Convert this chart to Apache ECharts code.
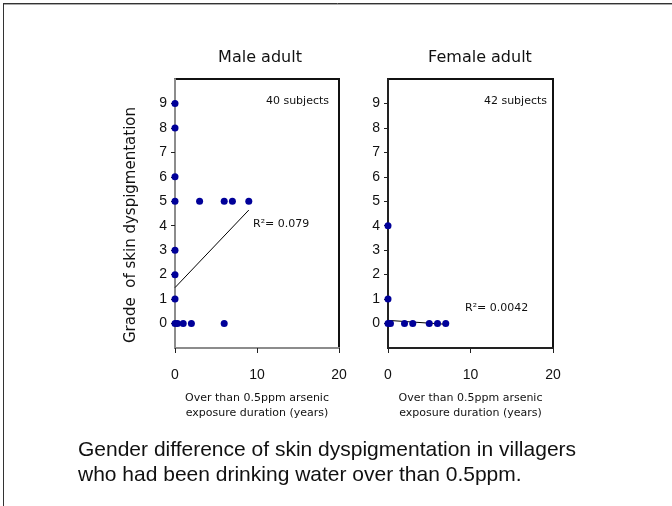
<!DOCTYPE html>
<html>
<head>
<meta charset="utf-8">
<script src="https://cdn.jsdelivr.net/npm/echarts@6/dist/echarts.min.js"></script>
<style>
  html, body { margin: 0; padding: 0; background: #fff; }
  #chart { width: 672px; height: 506px; }
</style>
</head>
<body>
<div id="chart"></div>
<script>
// Exposure duration (years) and skin dyspigmentation grade per subject
const maleDuration = [0, 0, 0, 0, 0, 0, 0, 0, 0.3, 1, 2, 6, 3, 6, 7, 9];
const maleGrade    = [9, 8, 6, 5, 3, 2, 1, 0, 0,   0, 0, 0, 5, 5, 5, 5];
const femaleDuration = [0, 0, 0, 0.3, 2, 3, 5, 6, 7];
const femaleGrade    = [4, 1, 0, 0,   0, 0, 0, 0, 0];

// Linear trend lines (start and end of fitted line)
const maleTrendX = [0, 9];
const maleTrendY = [1.47, 4.64];
const femaleTrendX = [0, 7];
const femaleTrendY = [0.13, -0.03];

const maleR2 = 'R²= 0.079';
const femaleR2 = 'R²= 0.0042';
const maleCount = '40 subjects';
const femaleCount = '42 subjects';

const gradeTicks = [0, 1, 2, 3, 4, 5, 6, 7, 8, 9];
const durationTicks = [0, 10, 20];

const panelFont = 'DejaVu Sans, Liberation Sans, Arial, sans-serif';
const tickFont = 'Liberation Sans, Arial, sans-serif';
const markerColor = '#000099';

const zip = (xs, ys) => xs.map((x, i) => [x, ys[i]]);

function xAxisFor(gridIndex, lineColor) {
  return {
    gridIndex, type: 'value', min: 0, max: 20,
    splitLine: { show: false },
    axisLine: { show: true, onZero: false, lineStyle: { color: lineColor, width: 2 } },
    axisTick: { show: true, customValues: durationTicks, length: 5, lineStyle: { color: '#222', width: 1 } },
    axisLabel: { customValues: durationTicks, margin: 20, fontSize: 14, color: '#111', fontFamily: tickFont },
    name: 'Over than 0.5ppm arsenic\nexposure duration (years)',
    nameLocation: 'middle', nameGap: 43,
    nameTextStyle: { fontSize: 11, lineHeight: 15, color: '#111', fontFamily: panelFont }
  };
}

function yAxisFor(gridIndex, lineColor) {
  return {
    gridIndex, type: 'value', min: -1, max: 10,
    splitLine: { show: false },
    axisLine: { show: true, onZero: false, lineStyle: { color: lineColor, width: 2 } },
    axisTick: { show: true, customValues: gradeTicks, length: 4, lineStyle: { color: '#222', width: 1 } },
    axisLabel: { customValues: gradeTicks, margin: 8, fontSize: 14, color: '#111', fontFamily: tickFont }
  };
}

const chart = echarts.init(document.getElementById('chart'), null, { renderer: 'canvas' });

chart.setOption({
  animation: false,
  backgroundColor: '#fff',
  grid: [
    { left: 175, top: 79, width: 164, height: 269, show: true, borderColor: '#111', borderWidth: 2, backgroundColor: 'transparent' },
    { left: 388, top: 79, width: 165, height: 269, show: true, borderColor: '#111', borderWidth: 2, backgroundColor: 'transparent' }
  ],
  xAxis: [xAxisFor(0, '#8c8c8c'), xAxisFor(1, '#222')],
  yAxis: [yAxisFor(0, '#8c8c8c'), yAxisFor(1, '#222')],
  series: [
    {
      type: 'line', xAxisIndex: 0, yAxisIndex: 0,
      data: zip(maleTrendX, maleTrendY), showSymbol: false, symbol: 'none',
      lineStyle: { color: '#000', width: 1 }, z: 2
    },
    {
      type: 'scatter', xAxisIndex: 0, yAxisIndex: 0,
      data: zip(maleDuration, maleGrade), symbolSize: 7,
      itemStyle: { color: markerColor, opacity: 1 }, z: 3
    },
    {
      type: 'line', xAxisIndex: 1, yAxisIndex: 1,
      data: zip(femaleTrendX, femaleTrendY), showSymbol: false, symbol: 'none',
      lineStyle: { color: '#000', width: 1 }, z: 2
    },
    {
      type: 'scatter', xAxisIndex: 1, yAxisIndex: 1,
      data: zip(femaleDuration, femaleGrade), symbolSize: 7,
      itemStyle: { color: markerColor, opacity: 1 }, z: 3
    }
  ],
  graphic: [
    // outer frame
    { type: 'line', shape: { x1: 3, y1: 3.5, x2: 672, y2: 3.5 }, style: { stroke: '#333', lineWidth: 1 } },
    { type: 'line', shape: { x1: 4, y1: 4.5, x2: 672, y2: 4.5 }, style: { stroke: '#aaa', lineWidth: 1 } },
    { type: 'line', shape: { x1: 3.5, y1: 3, x2: 3.5, y2: 506 }, style: { stroke: '#333', lineWidth: 1 } },
    // panel titles
    { type: 'text', x: 260, y: 58, style: { text: 'Male adult', font: '16px ' + panelFont, fill: '#111', textAlign: 'center', textVerticalAlign: 'middle' } },
    { type: 'text', x: 480, y: 58, style: { text: 'Female adult', font: '16px ' + panelFont, fill: '#111', textAlign: 'center', textVerticalAlign: 'middle' } },
    // subject counts
    { type: 'text', x: 329, y: 101, style: { text: maleCount, font: '11px ' + panelFont, fill: '#111', textAlign: 'right', textVerticalAlign: 'middle' } },
    { type: 'text', x: 547, y: 101, style: { text: femaleCount, font: '11px ' + panelFont, fill: '#111', textAlign: 'right', textVerticalAlign: 'middle' } },
    // coefficient of determination
    { type: 'text', x: 253, y: 224, style: { text: maleR2, font: '11px ' + panelFont, fill: '#111', textAlign: 'left', textVerticalAlign: 'middle' } },
    { type: 'text', x: 465, y: 308, style: { text: femaleR2, font: '11px ' + panelFont, fill: '#111', textAlign: 'left', textVerticalAlign: 'middle' } },
    // shared y axis title
    { type: 'text', x: 131, y: 225, rotation: Math.PI / 2, style: { text: 'Grade  of skin dyspigmentation', font: '15px ' + panelFont, fill: '#111', textAlign: 'center', textVerticalAlign: 'middle' } },
    // caption
    { type: 'text', x: 78, y: 450, style: { text: 'Gender difference of skin dyspigmentation in villagers', font: '21px Liberation Sans, Arial, sans-serif', fill: '#111', textAlign: 'left', textVerticalAlign: 'middle' } },
    { type: 'text', x: 78, y: 475, style: { text: 'who had been drinking water over than 0.5ppm.', font: '21px Liberation Sans, Arial, sans-serif', fill: '#111', textAlign: 'left', textVerticalAlign: 'middle' } }
  ]
});
</script>
</body>
</html>
